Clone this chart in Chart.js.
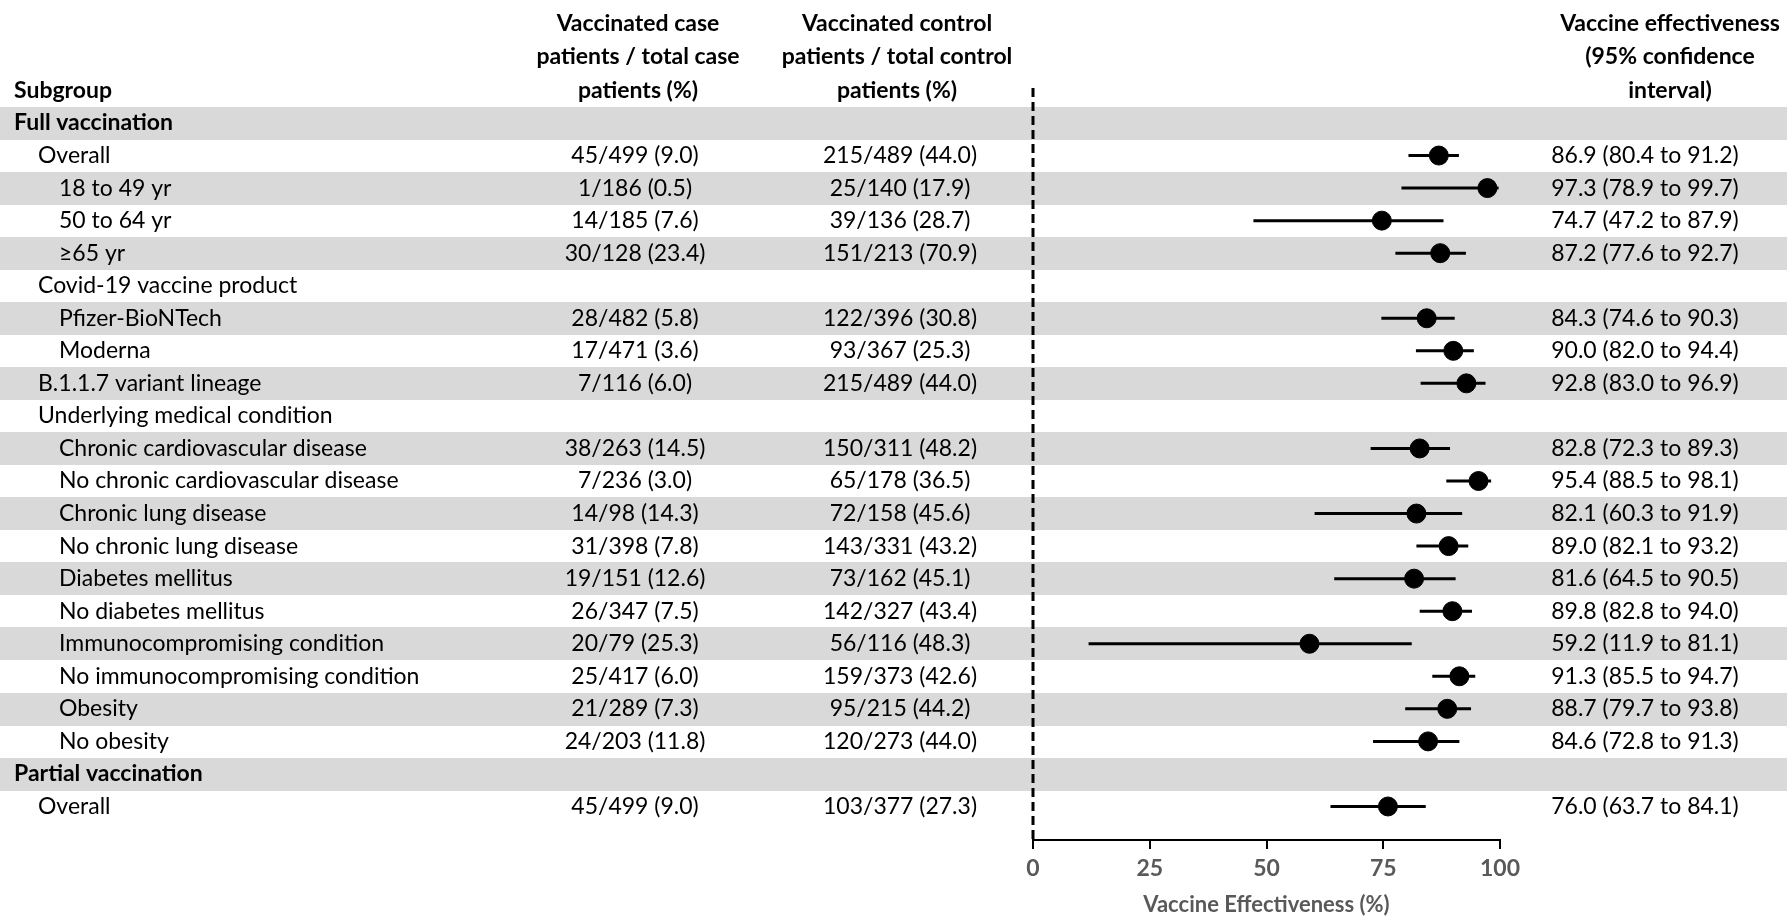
<!DOCTYPE html>
<html><head><meta charset="utf-8">
<script src="https://cdn.jsdelivr.net/npm/chart.js@4"></script>
<style>html,body{margin:0;padding:0;background:#fff;overflow:hidden}</style>
</head><body>
<canvas id="c" width="1787" height="918" style="width:1787px;height:918px;display:block"></canvas>
<script>
const subgroups = ["Full vaccination","Overall","18 to 49 yr","50 to 64 yr","\u226565 yr","Covid-19 vaccine product","Pfizer-BioNTech","Moderna","B.1.1.7 variant lineage","Underlying medical condition","Chronic cardiovascular disease","No chronic cardiovascular disease","Chronic lung disease","No chronic lung disease","Diabetes mellitus","No diabetes mellitus","Immunocompromising condition","No immunocompromising condition","Obesity","No obesity","Partial vaccination","Overall"];
const indentLevel = [0,1,2,2,2,1,2,2,1,1,2,2,2,2,2,2,2,2,2,2,0,1];
const boldRow = [true,false,false,false,false,false,false,false,false,false,false,false,false,false,false,false,false,false,false,false,true,false];
const caseCounts = ["","45/499 (9.0)","1/186 (0.5)","14/185 (7.6)","30/128 (23.4)","","28/482 (5.8)","17/471 (3.6)","7/116 (6.0)","","38/263 (14.5)","7/236 (3.0)","14/98 (14.3)","31/398 (7.8)","19/151 (12.6)","26/347 (7.5)","20/79 (25.3)","25/417 (6.0)","21/289 (7.3)","24/203 (11.8)","","45/499 (9.0)"];
const controlCounts = ["","215/489 (44.0)","25/140 (17.9)","39/136 (28.7)","151/213 (70.9)","","122/396 (30.8)","93/367 (25.3)","215/489 (44.0)","","150/311 (48.2)","65/178 (36.5)","72/158 (45.6)","143/331 (43.2)","73/162 (45.1)","142/327 (43.4)","56/116 (48.3)","159/373 (42.6)","95/215 (44.2)","120/273 (44.0)","","103/377 (27.3)"];
const veEstimate = [null,86.9,97.3,74.7,87.2,null,84.3,90.0,92.8,null,82.8,95.4,82.1,89.0,81.6,89.8,59.2,91.3,88.7,84.6,null,76.0];
const ciLow = [null,80.4,78.9,47.2,77.6,null,74.6,82.0,83.0,null,72.3,88.5,60.3,82.1,64.5,82.8,11.9,85.5,79.7,72.8,null,63.7];
const ciHigh = [null,91.2,99.7,87.9,92.7,null,90.3,94.4,96.9,null,89.3,98.1,91.9,93.2,90.5,94.0,81.1,94.7,93.8,91.3,null,84.1];
const xTickValues = [0,25,50,75,100];
const headerCase = ["Vaccinated case","patients / total case","patients (%)"];
const headerControl = ["Vaccinated control","patients / total control","patients (%)"];
const headerVE = ["Vaccine effectiveness","(95% confidence","interval)"];
const axisTitle = "Vaccine Effectiveness (%)";

const FONT = "Lato";
const FS = 23;

function fmt(v){ return v.toFixed(1); }

const pointData = [];
const ciData = [];
veEstimate.forEach((v,i)=>{
  if(v===null) return;
  pointData.push({x:v,y:i});
  ciData.push({x:ciLow[i],y:i});
  ciData.push({x:ciHigh[i],y:i});
  ciData.push({x:ciHigh[i],y:null});
});

const tablePlugin = {
  id:'table',
  beforeDraw(chart){
    const ctx = chart.ctx, ys = chart.scales.y;
    const pitch = Math.abs(ys.getPixelForValue(1)-ys.getPixelForValue(0));
    ctx.save();
    ctx.fillStyle = '#d9d9d9';
    subgroups.forEach((s,i)=>{
      if(i%2===0){
        const y = ys.getPixelForValue(i);
        ctx.fillRect(0, Math.round(y-pitch/2), chart.width, Math.round(pitch));
      }
    });
    ctx.restore();
  },
  afterDraw(chart){
    const ctx = chart.ctx, ys = chart.scales.y;
    ctx.save();
    ctx.fillStyle = '#000';
    ctx.textBaseline = 'middle';
    const indentX = [14,38,59];
    const headY = [24,57,91];
    ctx.font = `bold ${FS}px ${FONT}`;
    ctx.textAlign = 'left';
    ctx.fillText('Subgroup', 14, headY[2]);
    ctx.textAlign = 'center';
    headerCase.forEach((t,k)=>ctx.fillText(t, 638, headY[k]));
    headerControl.forEach((t,k)=>ctx.fillText(t, 897, headY[k]));
    headerVE.forEach((t,k)=>ctx.fillText(t, 1670, headY[k]));
    subgroups.forEach((s,i)=>{
      const y = ys.getPixelForValue(i);
      ctx.font = (boldRow[i]?'bold ':'') + `${FS}px ${FONT}`;
      ctx.textAlign = 'left';
      ctx.fillText(s, indentX[indentLevel[i]], y);
      ctx.font = `${FS}px ${FONT}`;
      ctx.textAlign = 'center';
      if(caseCounts[i]) ctx.fillText(caseCounts[i], 635, y);
      if(controlCounts[i]) ctx.fillText(controlCounts[i], 900, y);
      if(veEstimate[i]!==null){
        ctx.fillText(`${fmt(veEstimate[i])} (${fmt(ciLow[i])} to ${fmt(ciHigh[i])})`, 1645, y);
      }
    });
    ctx.restore();
  }
};

new Chart(document.getElementById('c'), {
  type:'scatter',
  data:{datasets:[
    {type:'line', data:[{x:0,y:-1.075},{x:0,y:22.03}], borderColor:'#000', borderWidth:3, borderDash:[9,5], pointRadius:0, clip:false, order:3},
    {type:'line', data:ciData, borderColor:'#000', borderWidth:3, pointRadius:0, spanGaps:false, borderCapStyle:'butt', order:2},
    {type:'scatter', data:pointData, backgroundColor:'#000', borderColor:'#000', pointRadius:9.5, pointHoverRadius:9.5, order:1}
  ]},
  options:{
    responsive:false, animation:false, devicePixelRatio:1,
    layout:{padding:{left:1033, right:287, top:88, bottom:0}},
    plugins:{legend:{display:false}, tooltip:{enabled:false}},
    scales:{
      x:{type:'linear', min:0, max:100,
         afterBuildTicks(s){ s.ticks = xTickValues.map(v=>({value:v})); },
         afterFit(s){ s.height = 78; },
         border:{display:true, color:'#000', width:2},
         grid:{drawOnChartArea:false, drawTicks:true, tickLength:9, color:'#000', lineWidth:2},
         ticks:{color:'#595959', font:{family:FONT, size:23, weight:'bold'}, padding:6, maxRotation:0},
         title:{display:true, text:axisTitle, color:'#595959', font:{family:FONT, size:22, weight:'bold'}, padding:{top:0,bottom:0}}
      },
      y:{type:'linear', reverse:true, min:-1.075, max:22.03, display:false}
    }
  },
  plugins:[tablePlugin]
});
</script>
</body></html>
